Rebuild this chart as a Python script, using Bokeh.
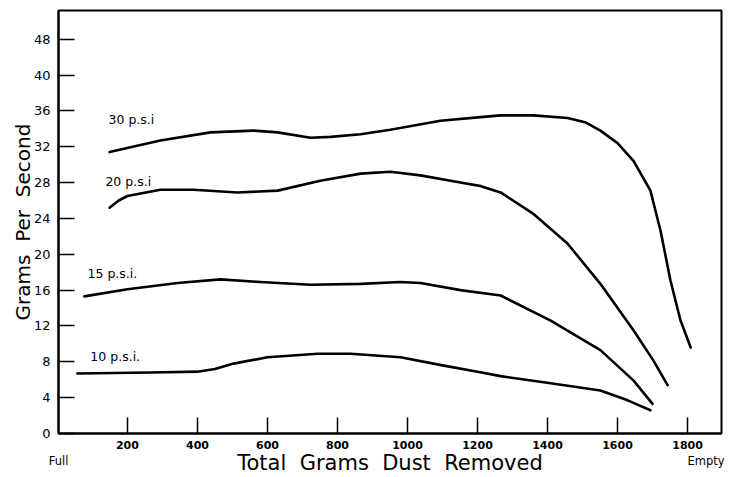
from bokeh.plotting import figure
from bokeh.models import Range1d, FixedTicker, Label, LinearAxis
from bokeh.embed import file_html
from bokeh.resources import INLINE

# ---- data ----
psi30_x = [149, 294, 437, 560, 629, 723, 780, 866, 951, 1094, 1209, 1266, 1360, 1457, 1510, 1551, 1600, 1646, 1694, 1723, 1751, 1780, 1809]
psi30_y = [31.4, 32.7, 33.6, 33.8, 33.6, 33.0, 33.1, 33.4, 33.9, 34.9, 35.3, 35.5, 35.5, 35.2, 34.7, 33.8, 32.4, 30.4, 27.1, 22.6, 17.1, 12.6, 9.6]

psi20_x = [149, 175, 200, 294, 389, 514, 629, 751, 866, 951, 1037, 1151, 1210, 1266, 1360, 1457, 1551, 1646, 1703, 1743]
psi20_y = [25.2, 26.0, 26.5, 27.2, 27.2, 26.9, 27.1, 28.2, 29.0, 29.2, 28.8, 28.0, 27.6, 26.9, 24.5, 21.2, 16.7, 11.5, 8.1, 5.4]

psi15_x = [77, 200, 343, 466, 580, 723, 866, 980, 1037, 1151, 1266, 1409, 1551, 1646, 1700]
psi15_y = [15.3, 16.1, 16.8, 17.2, 16.9, 16.6, 16.7, 16.9, 16.8, 16.0, 15.4, 12.6, 9.3, 5.9, 3.3]

psi10_x = [57, 266, 400, 450, 503, 600, 743, 837, 980, 1100, 1200, 1266, 1409, 1551, 1629, 1694]
psi10_y = [6.7, 6.8, 6.9, 7.2, 7.8, 8.5, 8.9, 8.9, 8.5, 7.6, 6.9, 6.4, 5.6, 4.8, 3.7, 2.6]

series_names = ["30 p.s.i", "20 p.s.i", "15 p.s.i.", "10 p.s.i."]
label_x = [146, 137, 86, 94]
label_y = [35.0, 28.1, 17.9, 8.6]

x_ticks = [200, 400, 600, 800, 1000, 1200, 1400, 1600, 1800]
y_ticks = [0, 4, 8, 12, 16, 20, 24, 28, 32, 36, 40, 44]
y_tick_labels = ["0", "4", "8", "12", "16", "20", "24", "28", "32", "36", "40", "48"]
end_ticks = [3, 1853]
end_labels = ["Full", "Empty"]

NB2 = "\u00a0\u00a0"
x_title = NB2.join(["Total", "Grams", "Dust", "Removed"])
y_title = NB2.join(["Grams", "Per", "Second"])

FONT = "DejaVu Sans"

p = figure(width=736, height=477, output_backend="svg", toolbar_location=None,
           x_range=Range1d(3, 1897), y_range=Range1d(0, 47.2),
           min_border_left=58, min_border_right=15, min_border_top=10, min_border_bottom=44)
p.background_fill_color = "white"
p.border_fill_color = "white"
p.grid.visible = False
p.outline_line_color = "black"
p.outline_line_width = 2

for ax in (p.xaxis[0], p.yaxis[0]):
    ax.axis_line_color = "black"
    ax.axis_line_width = 2
    ax.major_tick_in = 16
    ax.major_tick_out = 0
    ax.major_tick_line_width = 1.5
    ax.major_tick_line_color = "black"
    ax.minor_tick_line_color = None
    ax.major_label_text_font = FONT
    ax.major_label_text_color = "black"

p.xaxis[0].ticker = FixedTicker(ticks=x_ticks)
p.xaxis[0].major_label_text_font_size = "11px"
p.xaxis[0].major_label_text_font_style = "bold"
p.xaxis[0].major_label_standoff = 7

p.yaxis[0].ticker = FixedTicker(ticks=y_ticks)
p.yaxis[0].major_label_overrides = {t: l for t, l in zip(y_ticks, y_tick_labels)}
p.yaxis[0].major_label_text_font_size = "13px"
p.yaxis[0].major_label_standoff = 8
p.yaxis[0].axis_label = y_title
p.yaxis[0].axis_label_text_font = FONT
p.yaxis[0].axis_label_text_font_style = "normal"
p.yaxis[0].axis_label_text_font_size = "20px"
p.yaxis[0].axis_label_text_color = "black"
p.yaxis[0].axis_label_standoff = -4

# second bottom axis carries "Full" / "Empty" and the axis title on one line
ax2 = LinearAxis(ticker=FixedTicker(ticks=end_ticks),
                 major_label_overrides={t: l for t, l in zip(end_ticks, end_labels)})
ax2.axis_line_color = None
ax2.major_tick_line_color = None
ax2.minor_tick_line_color = None
ax2.major_tick_in = 0
ax2.major_tick_out = 0
ax2.major_label_text_font = FONT
ax2.major_label_text_font_size = "11.5px"
ax2.major_label_text_color = "black"
ax2.major_label_standoff = 2
ax2.axis_label = x_title
ax2.axis_label_text_font = FONT
ax2.axis_label_text_font_style = "normal"
ax2.axis_label_text_font_size = "21px"
ax2.axis_label_text_color = "black"
ax2.axis_label_standoff = -20
p.add_layout(ax2, "below")

for xs, ys in [(psi30_x, psi30_y), (psi20_x, psi20_y), (psi15_x, psi15_y), (psi10_x, psi10_y)]:
    p.line(xs, ys, line_color="black", line_width=2.6, line_join="round", line_cap="round")

for name, lx, ly in zip(series_names, label_x, label_y):
    p.add_layout(Label(x=lx, y=ly, text=name, text_font=FONT, text_font_size="12.5px",
                       text_align="left", text_baseline="middle", text_color="black"))

open("out.html", "w").write(file_html(p, INLINE))
